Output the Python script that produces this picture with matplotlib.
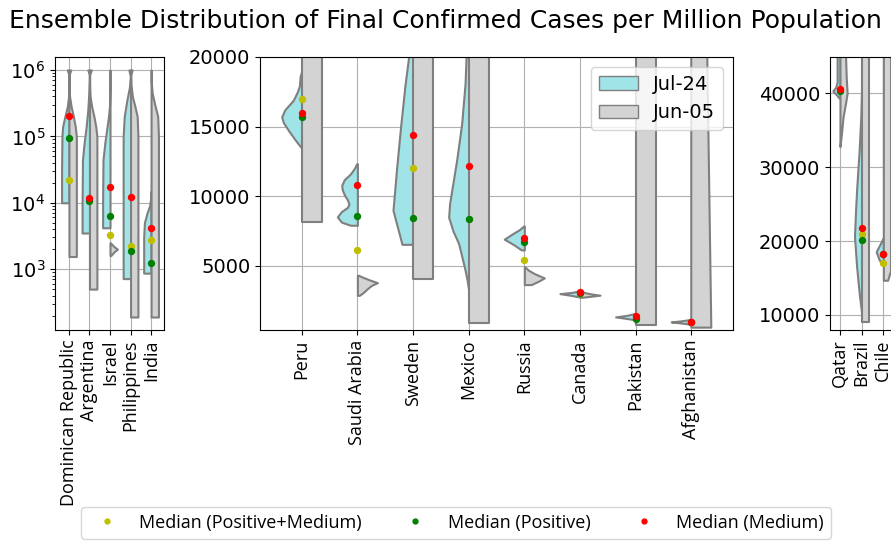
import numpy as np
import matplotlib
matplotlib.use("Agg")
import matplotlib.pyplot as plt
from matplotlib.patches import Patch
from matplotlib.lines import Line2D

## Countries in each panel
left_countries = ["Dominican Republic", "Argentina", "Israel", "Philippines", "India"]
mid_countries = ["Peru", "Saudi Arabia", "Sweden", "Mexico", "Russia", "Canada", "Pakistan", "Afghanistan"]
right_countries = ["Qatar", "Brazil", "Chile"]

## Density profiles of the ensembles: cases per million -> relative density
# Jul-24 (left half of each violin)
left_jul_cases = [
    [1e4, 3e4, 1e5, 1.4e5, 2e5, 2.8e5, 4e5, 6e5, 8.5e5, 1e6],
    [3.5e3, 1e4, 4.4e4, 7.9e4, 1.4e5, 2.5e5, 4.5e5, 7e5, 8.5e5, 1e6],
    [4.2e3, 1e4, 4.4e4, 8e4, 1.4e5, 2e5, 3e5, 5e5, 1e6],
    [720, 1e4, 1e5, 2e5, 3.5e5, 5.5e5, 8e5, 1e6],
    [870, 3e3, 5e3, 7e3, 9e3, 1.2e4, 1.5e4],
]
left_jul_dens = [
    [1.0, 1.0, 0.95, 0.86, 0.55, 0.23, 0.05, 0.02, 0.02, 0.22],
    [1.0, 1.0, 0.95, 0.73, 0.45, 0.23, 0.09, 0.03, 0.02, 0.22],
    [1.0, 1.0, 0.95, 0.7, 0.4, 0.2, 0.06, 0.02, 0.02],
    [1.0, 1.0, 1.0, 0.85, 0.5, 0.15, 0.03, 0.22],
    [1.0, 1.0, 0.9, 0.55, 0.2, 0.04, 0.01],
]
# Jun-05 (right half of each violin)
left_jun_cases = [
    [1.55e3, 1e4, 1e5, 1.4e5, 2e5, 2.8e5, 4e5, 6e5, 8.5e5, 1e6],
    [500, 1e4, 1e5, 1.4e5, 2e5, 2.8e5, 4e5, 6e5, 8.5e5, 1e6],
    [1.6e3, 1.85e3, 2e3, 2.2e3, 2.5e3],
    [190, 1e4, 1e5, 2e5, 2.8e5, 4e5, 6e5, 8.5e5, 1e6],
    [190, 1e4, 1e5, 2e5, 3e5, 4.5e5, 6.5e5, 1e6],
]
left_jun_dens = [
    [1.0, 1.0, 1.0, 0.85, 0.6, 0.3, 0.08, 0.02, 0.02, 0.25],
    [1.0, 1.0, 1.0, 0.85, 0.6, 0.3, 0.08, 0.02, 0.02, 0.25],
    [0.1, 0.6, 1.0, 0.5, 0.05],
    [1.0, 1.0, 1.0, 0.9, 0.6, 0.25, 0.05, 0.02, 0.22],
    [1.0, 1.0, 1.0, 0.9, 0.5, 0.15, 0.03, 0.02],
]

mid_jul_cases = [
    [13540, 14000, 14700, 15300, 15700, 16200, 16900, 17500, 17900, 18600, 19000],
    [7920, 8150, 8520, 8900, 9200, 9450, 9750, 10100, 10500, 10800, 11200, 11600, 12000, 12340],
    [6550, 8990, 12000, 15000, 18000, 20000, 23000, 26000],
    [3250, 4000, 4700, 5600, 6600, 7500, 8500, 9500, 11000, 12600, 15200, 18100, 20000, 24000],
    [6150, 6500, 6920, 7300, 7600, 7870],
    [2780, 2900, 3010, 3100, 3200],
    [1150, 1250, 1340, 1450, 1580],
    [830, 920, 980, 1060, 1150],
]
mid_jul_dens = [
    [0.05, 0.3, 0.65, 0.92, 1.0, 0.85, 0.42, 0.22, 0.12, 0.08, 0.0],
    [0.35, 0.8, 1.0, 0.8, 0.5, 0.42, 0.5, 0.65, 0.76, 0.78, 0.65, 0.35, 0.15, 0.03],
    [0.55, 1.0, 0.82, 0.62, 0.4, 0.22, 0.05, 0.0],
    [0.0, 0.08, 0.18, 0.33, 0.5, 0.78, 1.0, 0.95, 0.78, 0.6, 0.35, 0.18, 0.13, 0.05],
    [0.15, 0.5, 1.0, 0.6, 0.25, 0.03],
    [0.05, 0.5, 1.0, 0.4, 0.05],
    [0.1, 0.55, 1.0, 0.45, 0.05],
    [0.1, 0.6, 1.0, 0.5, 0.05],
]
mid_jun_cases = [
    [8160, 60000],
    [2890, 3100, 3370, 3600, 3800, 4000, 4200, 4330],
    [4090, 60000],
    [910, 60000],
    [3660, 3900, 4140, 4450, 4700, 4930],
    [2750, 2830, 2900, 2980, 3080, 3200],
    [740, 60000],
    [570, 20000, 60000],
]
mid_jun_dens = [
    [1.0, 1.0],
    [0.1, 0.3, 0.5, 0.7, 1.0, 0.6, 0.25, 0.05],
    [1.0, 1.0],
    [1.0, 1.0],
    [0.35, 0.7, 1.0, 0.5, 0.2, 0.03],
    [0.1, 0.6, 1.0, 0.6, 0.25, 0.05],
    [1.0, 1.0],
    [1.0, 0.8, 0.5],
]

right_jul_cases = [
    [39320, 39800, 40300, 40800, 41500, 43000, 46000],
    [10230, 13000, 16500, 20600, 24000, 27000, 32300, 36800, 40000],
    [16770, 17500, 18570, 19500, 20380],
]
right_jul_dens = [
    [0.1, 0.5, 1.0, 0.6, 0.4, 0.4, 0.4],
    [0.0, 0.35, 0.7, 1.0, 0.86, 0.7, 0.35, 0.12, 0.03],
    [0.15, 0.6, 1.0, 0.5, 0.05],
]
right_jun_cases = [
    [32780, 34500, 36800, 38500, 40000, 42200, 46000],
    [9100, 60000],
    [14700, 16000, 60000],
]
right_jun_dens = [
    [0.0, 0.2, 0.43, 0.75, 1.0, 0.87, 0.75],
    [1.0, 1.0],
    [0.6, 1.0, 1.0],
]

## Medians: Positive+Medium, Positive, Medium
left_med_pm = [2.2e4, 1.1e4, 3.3e3, 2.2e3, 2.75e3]
left_med_pos = [9.6e4, 1.05e4, 6.3e3, 1.85e3, 1.23e3]
left_med_med = [2.0e5, 1.17e4, 1.7e4, 1.24e4, 4.1e3]

mid_med_pm = [17000, 6170, 12030, 8400, 5450, 3050, 1300, 950]
mid_med_pos = [15700, 8560, 8440, 8350, 6750, 3050, 1200, 950]
mid_med_med = [16000, 10800, 14380, 12180, 7030, 3150, 1400, 980]

right_med_pm = [40400, 21000, 17100]
right_med_pos = [40300, 20200, 18250]
right_med_med = [40600, 21800, 18300]

JUL_COLOR = "#a0e4e8"
JUN_COLOR = "#d3d3d3"
EDGE = "#7f7f7f"
LABEL_FONT = ["Open Sans", "DejaVu Sans"]


def vstats(cases, dens):
    c = np.array(cases, dtype=float)
    return dict(coords=c, vals=np.array(dens, dtype=float), mean=c.mean(),
                median=np.median(c), min=c.min(), max=c.max())


def half_violins(ax, cases, dens, side, color, widths):
    pos = np.arange(len(cases))
    parts = ax.violin([vstats(c, d) for c, d in zip(cases, dens)], positions=pos,
                      widths=widths, side=side, showmeans=False,
                      showextrema=False, showmedians=False)
    for body in parts["bodies"]:
        body.set_facecolor(color)
        body.set_edgecolor(EDGE)
        body.set_alpha(1)
        body.set_linewidth(1.5)
        body.set_zorder(2)


def panel(ax, names, jul_c, jul_d, jun_c, jun_d, pm, pos_, med, widths):
    half_violins(ax, jul_c, jul_d, "low", JUL_COLOR, widths)
    half_violins(ax, jun_c, jun_d, "high", JUN_COLOR, widths)
    x = np.arange(len(names))
    ax.scatter(x, pm, color="y", s=28, zorder=3, linewidths=0)
    ax.scatter(x, pos_, color="g", s=28, zorder=3, linewidths=0)
    ax.scatter(x, med, color="r", s=28, zorder=3, linewidths=0)
    ax.set_xticks(x)
    ax.set_xticklabels(names, rotation=90, fontsize=13, family=LABEL_FONT)
    ax.tick_params(axis="y", labelsize=14)
    ax.grid(True)
    ax.set_axisbelow(True)


W, H = 891, 548
fig = plt.figure(figsize=(W / 100, H / 100), dpi=100)
bottom = (H - 330) / H
height = 273 / H

ax1 = fig.add_axes([55 / W, bottom, 109 / W, height])
panel(ax1, left_countries, left_jul_cases, left_jul_dens, left_jun_cases, left_jun_dens,
      left_med_pm, left_med_pos, left_med_med, 0.72)
ax1.set_yscale("log")
ax1.set_ylim(121, 1.57e6)
ax1.set_xlim(-0.68, 4.63)

ax2 = fig.add_axes([260 / W, bottom, 473 / W, height])
panel(ax2, mid_countries, mid_jul_cases, mid_jul_dens, mid_jun_cases, mid_jun_dens,
      mid_med_pm, mid_med_pos, mid_med_med, 0.72)
ax2.set_ylim(400, 20000)
ax2.set_xlim(-0.75, 7.75)
ax2.set_yticks([5000, 10000, 15000, 20000])
ax2.legend(handles=[Patch(facecolor=JUL_COLOR, edgecolor=EDGE, label="Jul-24"),
                    Patch(facecolor=JUN_COLOR, edgecolor=EDGE, label="Jun-05")],
           loc="upper right", fontsize=14)

ax3 = fig.add_axes([830 / W, bottom, 108 / W, height])
panel(ax3, right_countries, right_jul_cases, right_jul_dens, right_jun_cases, right_jun_dens,
      right_med_pm, right_med_pos, right_med_med, 0.66)
ax3.set_ylim(7970, 44900)
ax3.set_xlim(-0.46, 4.52)
ax3.set_yticks([10000, 20000, 30000, 40000])

fig.text(0.5, 1 - 21 / H, "Ensemble Distribution of Final Confirmed Cases per Million Population",
         ha="center", va="center", fontsize=18)

handles = [Line2D([], [], marker="o", linestyle="none", color=c, markersize=3.5)
           for c in ["y", "g", "r"]]
fig.legend(handles, ["Median (Positive+Medium)", "Median (Positive)", "Median (Medium)"],
           loc="lower center", bbox_to_anchor=(0.512, 0.0), ncol=3,
           prop={"family": LABEL_FONT, "size": 13}, columnspacing=1.95)

fig.savefig("out.png", dpi=100)
